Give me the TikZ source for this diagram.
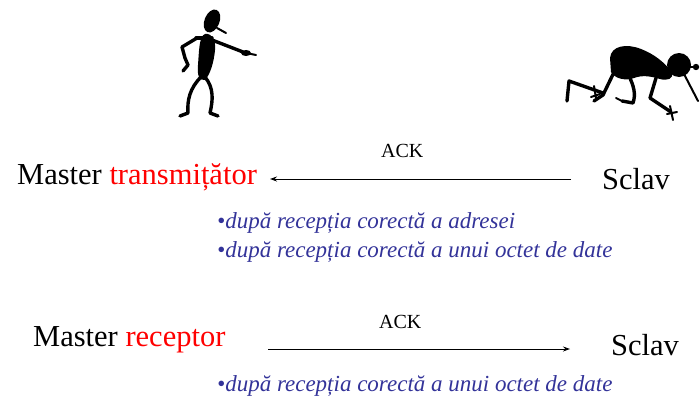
\documentclass[tikz,border=0pt]{standalone}
\usepackage{fontspec}
\setmainfont{Liberation Serif}
\usetikzlibrary{arrows.meta}
\definecolor{notered}{RGB}{255,0,0}
\definecolor{noteblue}{RGB}{51,51,153}
\begin{document}
\begin{tikzpicture}[x=1pt,y=-1pt,
  big/.style={inner sep=0pt,anchor=base west,font=\fontsize{30.5}{34}\selectfont},
  acklabel/.style={inner sep=0pt,anchor=base west,font=\fontsize{20}{24}\selectfont},
  note/.style={inner sep=0pt,anchor=base west,text=noteblue,font=\fontsize{23}{29}\selectfont\itshape},
  signal/.style={line width=0.9pt,-{Stealth[length=7pt,width=5pt]}},
  limb/.style={line width=3.4pt,line cap=round,line join=round},
  thinlimb/.style={line width=2pt,line cap=round,line join=round}]
\useasboundingbox (0,0) rectangle (700,396);

% standing figure, pointing
\fill[rotate around={-22:(212,21)}] (212,21) ellipse (7.5 and 12);
\draw[thinlimb] (217,28) -- (226,33);
\fill (205,34) .. controls (212,33) and (216,40) .. (215,50)
  .. controls (214,62) and (210,75) .. (205,80)
  .. controls (199,81) and (197,75) .. (198,65)
  .. controls (199,52) and (199,36) .. cycle;
\draw[limb] (196,38) -- (212,38);
\draw[limb] (212,40) -- (243,52);
\fill (246,53) ellipse (5 and 3);
\draw[thinlimb] (246,53) -- (256,55);
\draw[limb] (197,38) -- (182,47) -- (185,58) -- (188,65) -- (183,71);
\draw[limb] (201,77) .. controls (190,88) and (187,100) .. (188,113) -- (180,116);
\draw[limb] (205,77) .. controls (214,88) and (213,100) .. (210,113) -- (218,116);

% crawling figure
\fill (679,65) circle (12);
\fill (696,67) circle (3.2);
\draw[thinlimb] (689,67) -- (696,67);
\fill (610,58) .. controls (611,46) and (626,43) .. (641,49)
  .. controls (654,54) and (664,62) .. (672,72)
  .. controls (674,79) and (667,81) .. (660,79)
  .. controls (650,76) and (642,75) .. (634,78)
  .. controls (626,81) and (615,79) .. (611,72) -- cycle;
\draw[limb] (617,66) -- (603,95) -- (594,101);
\draw[limb] (603,93) -- (569,81) -- (567,101);
\draw[thinlimb] (594,86) -- (596,98);
\draw[thinlimb] (591,97) -- (600,94);
\draw[limb] (628,74) .. controls (634,86) and (636,94) .. (633,103) -- (622,101);
\draw[thinlimb] (616,98) -- (622,101);
\draw[limb] (656,78) -- (650,98) -- (671,112);
\draw[thinlimb] (670,106) -- (673,120);
\draw[thinlimb] (667,114) -- (677,112);
\draw[thinlimb] (684,74) -- (698,101);

% first exchange: master transmits, slave acknowledges
\node[big] (master1) at (17,184) {Master \textcolor{notered}{transmițător}};
\node[big] (slave1) at (602,189) {Sclav};
\node[acklabel] (ack1) at (381,157) {ACK};
\coordinate (ack1from) at (571,179);
\coordinate (ack1to) at (270,179);
\draw[signal] (ack1from) -- (ack1to);
\node[note] (note1a) at (217,228) {•după recepția corectă a adresei};
\node[note] (note1b) at (217,257) {•după recepția corectă a unui octet de date};

% second exchange: master receives and acknowledges
\node[big] (master2) at (33,346) {Master \textcolor{notered}{receptor}};
\node[big] (slave2) at (611,355) {Sclav};
\node[acklabel] (ack2) at (379,328) {ACK};
\coordinate (ack2from) at (268,349);
\coordinate (ack2to) at (570,349);
\draw[signal] (ack2from) -- (ack2to);
\node[note] (note2) at (217,391) {•după recepția corectă a unui octet de date};
\end{tikzpicture}
\end{document}
